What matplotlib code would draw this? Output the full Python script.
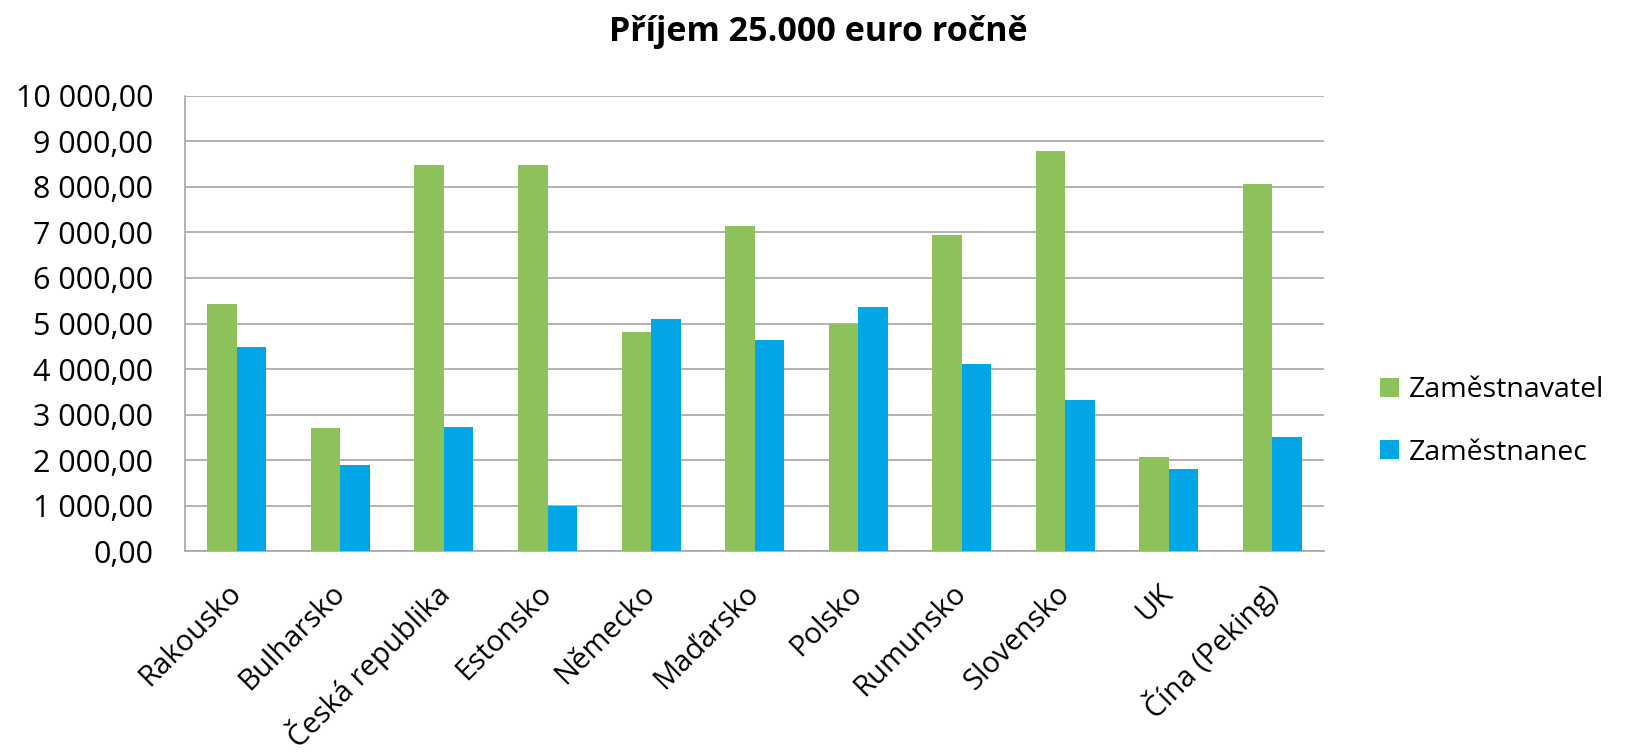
import matplotlib.pyplot as plt
import matplotlib.ticker as mticker
import numpy as np

plt.rcParams['font.family'] = ['Open Sans', 'DejaVu Sans']

# data
countries = ["Rakousko", "Bulharsko", "Česká republika", "Estonsko", "Německo",
             "Maďarsko", "Polsko", "Rumunsko", "Slovensko", "UK", "Čína (Peking)"]
zamestnavatel = [5430, 2700, 8490, 8490, 4810, 7130, 4990, 6940, 8790, 2080, 8060]
zamestnanec = [4480, 1890, 2740, 990, 5100, 4630, 5360, 4110, 3330, 1820, 2520]
series_names = ["Zaměstnavatel", "Zaměstnanec"]
yticks = np.arange(0, 10001, 1000)

green = '#8DC15A'
blue = '#00A6E6'
grid = '#A6A6A6'

fig = plt.figure(figsize=(16.31, 7.54), dpi=100)
ax = fig.add_axes([0.1135, 0.2686, 0.8118 - 0.1135, 0.8731 - 0.2686])

x = np.arange(len(countries))
w = 0.285
ax.bar(x - w / 2, zamestnavatel, w, color=green, label=series_names[0], zorder=3)
ax.bar(x + w / 2, zamestnanec, w, color=blue, label=series_names[1], zorder=3)

ax.set_xlim(-0.5, len(countries) - 0.5)
ax.set_ylim(0, 10000)
ax.set_yticks(yticks)
ax.yaxis.set_major_formatter(mticker.FuncFormatter(
    lambda v, p: f"{v:,.2f}".replace(",", " ").replace(".", ",")))
ax.yaxis.grid(True, color=grid, linewidth=1.2, zorder=0)
ax.set_axisbelow(True)

for s in ['top', 'right']:
    ax.spines[s].set_visible(False)
for s in ['left', 'bottom']:
    ax.spines[s].set_color(grid)
    ax.spines[s].set_linewidth(1.2)

ax.tick_params(axis='y', length=0, pad=23, labelsize=22, colors='black')
ax.tick_params(axis='x', length=0, pad=27, labelsize=21)
ax.set_xticks(x)
ax.set_xticklabels(countries, rotation=45, ha='right', va='center',
                   rotation_mode='anchor')

fig.text(0.5015, 0.958, "Příjem 25.000 euro ročně", ha='center', va='center',
         fontsize=24.5, fontweight='bold')

fig.legend(loc='center left', bbox_to_anchor=(1380 / 1631, 0.441),
           frameon=False, fontsize=20.5, borderpad=0, borderaxespad=0,
           handlelength=0.68, handleheight=0.68, handletextpad=0.35,
           labelspacing=1.2)

fig.savefig("out.png", dpi=100)
